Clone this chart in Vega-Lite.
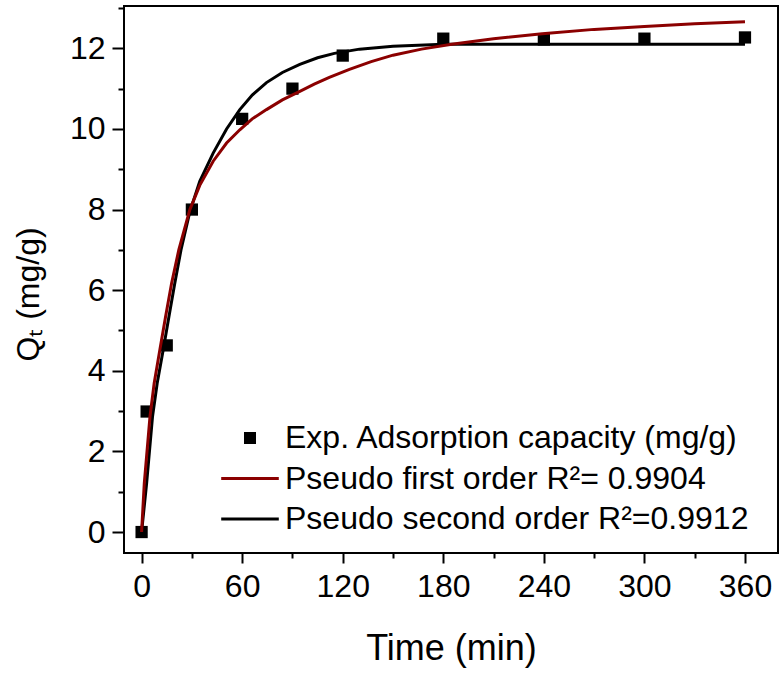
{
  "$schema": "https://vega.github.io/schema/vega-lite/v6.json",
  "width": 654,
  "height": 547,
  "autosize": {"type": "none"},
  "padding": {"left": 124, "top": 6, "right": 2, "bottom": 120},
  "background": "white",
  "config": {
    "view": {"stroke": "black", "strokeWidth": 2},
    "font": "Liberation Sans",
    "axis": {
      "domain": false,
      "grid": false,
      "tickColor": "black",
      "tickWidth": 2,
      "labelColor": "black",
      "labelFont": "Liberation Sans",
      "labelFontSize": 32,
      "titleFont": "Liberation Sans",
      "titleFontSize": 36,
      "titleFontWeight": "normal",
      "titleColor": "black"
    }
  },
  "datasets": {
    "pts": [
      {"t": 0, "q": 0, "series": "Exp. Adsorption capacity (mg/g)"},
      {"t": 3, "q": 2.99, "series": "Exp. Adsorption capacity (mg/g)"},
      {"t": 15, "q": 4.63, "series": "Exp. Adsorption capacity (mg/g)"},
      {"t": 30, "q": 8.0, "series": "Exp. Adsorption capacity (mg/g)"},
      {"t": 60, "q": 10.25, "series": "Exp. Adsorption capacity (mg/g)"},
      {"t": 90, "q": 11.0, "series": "Exp. Adsorption capacity (mg/g)"},
      {"t": 120, "q": 11.82, "series": "Exp. Adsorption capacity (mg/g)"},
      {"t": 180, "q": 12.24, "series": "Exp. Adsorption capacity (mg/g)"},
      {"t": 240, "q": 12.22, "series": "Exp. Adsorption capacity (mg/g)"},
      {"t": 300, "q": 12.24, "series": "Exp. Adsorption capacity (mg/g)"},
      {"t": 360, "q": 12.27, "series": "Exp. Adsorption capacity (mg/g)"}
    ],
    "fit1": [
      {"t": 0, "q": 0, "series": "Pseudo first order R²= 0.9904"},
      {"t": 1.6, "q": 1.21, "series": "Pseudo first order R²= 0.9904"},
      {"t": 5, "q": 2.86, "series": "Pseudo first order R²= 0.9904"},
      {"t": 7.5, "q": 3.69, "series": "Pseudo first order R²= 0.9904"},
      {"t": 10.9, "q": 4.52, "series": "Pseudo first order R²= 0.9904"},
      {"t": 14.3, "q": 5.34, "series": "Pseudo first order R²= 0.9904"},
      {"t": 17.9, "q": 6.17, "series": "Pseudo first order R²= 0.9904"},
      {"t": 22.2, "q": 7.0, "series": "Pseudo first order R²= 0.9904"},
      {"t": 28.8, "q": 8.0, "series": "Pseudo first order R²= 0.9904"},
      {"t": 34.7, "q": 8.6, "series": "Pseudo first order R²= 0.9904"},
      {"t": 42.7, "q": 9.2, "series": "Pseudo first order R²= 0.9904"},
      {"t": 50.7, "q": 9.65, "series": "Pseudo first order R²= 0.9904"},
      {"t": 58.6, "q": 9.98, "series": "Pseudo first order R²= 0.9904"},
      {"t": 66, "q": 10.25, "series": "Pseudo first order R²= 0.9904"},
      {"t": 74.5, "q": 10.48, "series": "Pseudo first order R²= 0.9904"},
      {"t": 84, "q": 10.72, "series": "Pseudo first order R²= 0.9904"},
      {"t": 94.4, "q": 10.93, "series": "Pseudo first order R²= 0.9904"},
      {"t": 103, "q": 11.11, "series": "Pseudo first order R²= 0.9904"},
      {"t": 112, "q": 11.28, "series": "Pseudo first order R²= 0.9904"},
      {"t": 124, "q": 11.48, "series": "Pseudo first order R²= 0.9904"},
      {"t": 137, "q": 11.67, "series": "Pseudo first order R²= 0.9904"},
      {"t": 150, "q": 11.83, "series": "Pseudo first order R²= 0.9904"},
      {"t": 167, "q": 11.98, "series": "Pseudo first order R²= 0.9904"},
      {"t": 185, "q": 12.1, "series": "Pseudo first order R²= 0.9904"},
      {"t": 210, "q": 12.24, "series": "Pseudo first order R²= 0.9904"},
      {"t": 239, "q": 12.36, "series": "Pseudo first order R²= 0.9904"},
      {"t": 270, "q": 12.47, "series": "Pseudo first order R²= 0.9904"},
      {"t": 300, "q": 12.54, "series": "Pseudo first order R²= 0.9904"},
      {"t": 330, "q": 12.61, "series": "Pseudo first order R²= 0.9904"},
      {"t": 360, "q": 12.66, "series": "Pseudo first order R²= 0.9904"}
    ],
    "fit2": [
      {"t": 0, "q": 0, "series": "Pseudo second order R²=0.9912"},
      {"t": 3, "q": 1.21, "series": "Pseudo second order R²=0.9912"},
      {"t": 6.5, "q": 2.86, "series": "Pseudo second order R²=0.9912"},
      {"t": 9.3, "q": 3.69, "series": "Pseudo second order R²=0.9912"},
      {"t": 12.9, "q": 4.52, "series": "Pseudo second order R²=0.9912"},
      {"t": 16.3, "q": 5.34, "series": "Pseudo second order R²=0.9912"},
      {"t": 19.8, "q": 6.17, "series": "Pseudo second order R²=0.9912"},
      {"t": 23.5, "q": 7.0, "series": "Pseudo second order R²=0.9912"},
      {"t": 28.8, "q": 7.95, "series": "Pseudo second order R²=0.9912"},
      {"t": 34.7, "q": 8.7, "series": "Pseudo second order R²=0.9912"},
      {"t": 42.7, "q": 9.4, "series": "Pseudo second order R²=0.9912"},
      {"t": 50.7, "q": 10.0, "series": "Pseudo second order R²=0.9912"},
      {"t": 58.6, "q": 10.48, "series": "Pseudo second order R²=0.9912"},
      {"t": 66, "q": 10.84, "series": "Pseudo second order R²=0.9912"},
      {"t": 74.5, "q": 11.15, "series": "Pseudo second order R²=0.9912"},
      {"t": 84, "q": 11.4, "series": "Pseudo second order R²=0.9912"},
      {"t": 94.4, "q": 11.6, "series": "Pseudo second order R²=0.9912"},
      {"t": 105, "q": 11.765, "series": "Pseudo second order R²=0.9912"},
      {"t": 115, "q": 11.875, "series": "Pseudo second order R²=0.9912"},
      {"t": 130, "q": 11.98, "series": "Pseudo second order R²=0.9912"},
      {"t": 150, "q": 12.05, "series": "Pseudo second order R²=0.9912"},
      {"t": 180, "q": 12.1, "series": "Pseudo second order R²=0.9912"},
      {"t": 240, "q": 12.1, "series": "Pseudo second order R²=0.9912"},
      {"t": 300, "q": 12.1, "series": "Pseudo second order R²=0.9912"},
      {"t": 360, "q": 12.1, "series": "Pseudo second order R²=0.9912"}
    ]
  },
  "layer": [
    {
      "data": {"name": "pts"},
      "mark": {"type": "point", "filled": true, "size": 150, "opacity": 1},
      "encoding": {
        "x": {
          "field": "t", "type": "quantitative",
          "scale": {"domain": [-10.5, 379.7], "nice": false, "zero": false},
          "axis": {
            "title": "Time (min)", "orient": "bottom",
            "values": [0, 60, 120, 180, 240, 300, 360],
            "tickSize": 10, "labelPadding": 8,
            "titleBaseline": "alphabetic", "titleY": 106
          }
        },
        "y": {
          "field": "q", "type": "quantitative",
          "scale": {"domain": [-0.52, 13.05], "nice": false, "zero": false},
          "axis": {
            "title": "Qₜ (mg/g)", "orient": "left",
            "values": [0, 2, 4, 6, 8, 10, 12],
            "tickSize": 12, "labelPadding": 7,
            "titleFontSize": 32,
            "titleBaseline": "alphabetic", "titleX": -86, "titleY": 288
          }
        },
        "color": {
          "field": "series", "type": "nominal",
          "scale": {
            "domain": ["Exp. Adsorption capacity (mg/g)", "Pseudo first order R²= 0.9904", "Pseudo second order R²=0.9912"],
            "range": ["black", "#8B0000", "black"]
          },
          "legend": {
            "orient": "none", "legendX": 110, "legendY": 416,
            "title": null, "padding": 0,
            "symbolSize": 144, "symbolStrokeWidth": 0,
            "labelFontSize": 32, "labelFont": "Liberation Sans", "labelColor": "black",
            "labelOffset": 19, "rowPadding": 8.5, "labelLimit": 600
          }
        },
        "shape": {
          "field": "series", "type": "nominal",
          "scale": {
            "domain": ["Exp. Adsorption capacity (mg/g)", "Pseudo first order R²= 0.9904", "Pseudo second order R²=0.9912"],
            "range": ["square", "M-4.8,-0.25H4.8V0.25H-4.8Z", "M-4.8,-0.25H4.8V0.25H-4.8Z"]
          }
        }
      }
    },
    {
      "data": {"name": "fit2"},
      "mark": {"type": "line", "strokeWidth": 3},
      "encoding": {
        "x": {
          "field": "t", "type": "quantitative",
          "axis": {
            "title": null, "orient": "bottom", "labels": false,
            "values": [30, 90, 150, 210, 270, 330],
            "tickSize": 5
          }
        },
        "y": {
          "field": "q", "type": "quantitative",
          "axis": {
            "title": null, "orient": "left", "labels": false,
            "values": [1, 3, 5, 7, 9, 11, 13],
            "tickSize": 6
          }
        },
        "color": {"field": "series", "type": "nominal"}
      }
    },
    {
      "data": {"name": "fit1"},
      "mark": {"type": "line", "strokeWidth": 3},
      "encoding": {
        "x": {"field": "t", "type": "quantitative", "axis": null},
        "y": {"field": "q", "type": "quantitative", "axis": null},
        "color": {"field": "series", "type": "nominal"}
      }
    }
  ],
  "resolve": {"axis": {"x": "independent", "y": "independent"}}
}
